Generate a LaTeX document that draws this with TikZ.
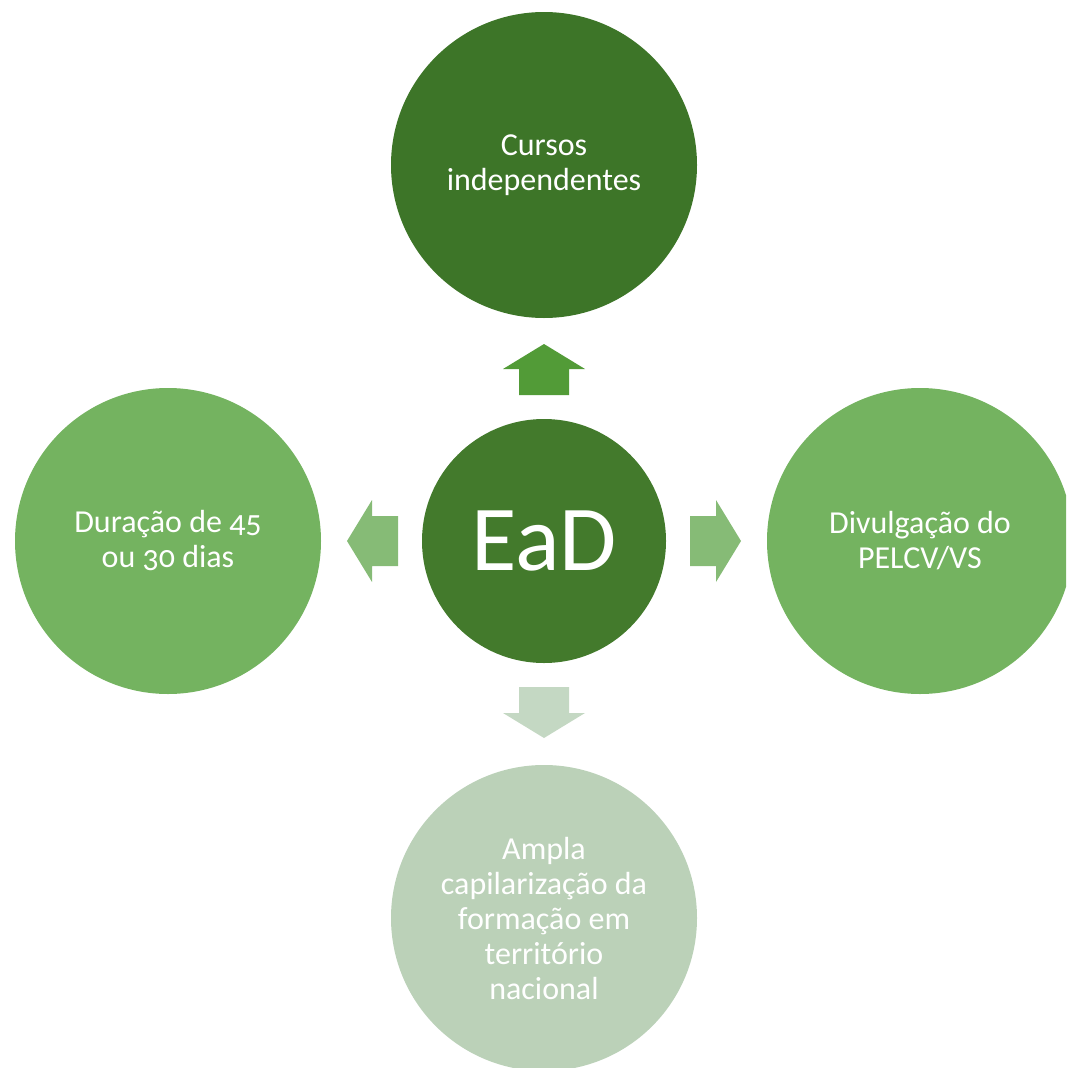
\documentclass[tikz,border=0pt]{standalone}
\usepackage{fontspec}
\setmainfont[Numbers=OldStyle]{Carlito}

\definecolor{topgreen}{HTML}{3D7528}
\definecolor{eadgreen}{HTML}{437A2C}
\definecolor{sidegreen}{HTML}{74B360}
\definecolor{palegreen}{HTML}{BBD1B8}
\definecolor{arrowtop}{HTML}{529B37}
\definecolor{arrowside}{HTML}{86BB76}
\definecolor{arrowbottom}{HTML}{C4D8C3}

\tikzset{
    bubble/.style={circle, fill=#1, text=white, inner sep=0pt, minimum size=306pt,
        align=center, font=\fontsize{32}{35}\selectfont},
}

\begin{document}
\begin{tikzpicture}[x=1pt, y=-1pt]
            \useasboundingbox (0,0) rectangle (1066,1068);
            \clip (0,0) rectangle (1066,1068);

            \node[bubble=topgreen] (cursos) at (544,165) {Cursos\\independentes};
            \node[bubble=sidegreen] (duracao) at (168,541) {Duração de 45\\ou 30 dias};
            \node[bubble=sidegreen] (divulgacao) at (920,541) {Divulgação do\\PELCV/VS};
            \node[bubble=palegreen] (ampla) at (544,918) {Ampla\\capilarização da\\formação em\\território\\nacional};
            \node[bubble=eadgreen, minimum size=244pt, font=\fontsize{93}{100}\selectfont] (ead) at (544,541) {EaD};

            \foreach \ang/\col in {90/arrowtop, 180/arrowside, 0/arrowside, 270/arrowbottom} {
                \fill[\col, shift={(ead.center)}, rotate=\ang]
                    (146,-25) -- (172,-25) -- (172,-41) -- (197,0) -- (172,41) -- (172,25) -- (146,25) -- cycle;
            }
        \end{tikzpicture}
\end{document}
